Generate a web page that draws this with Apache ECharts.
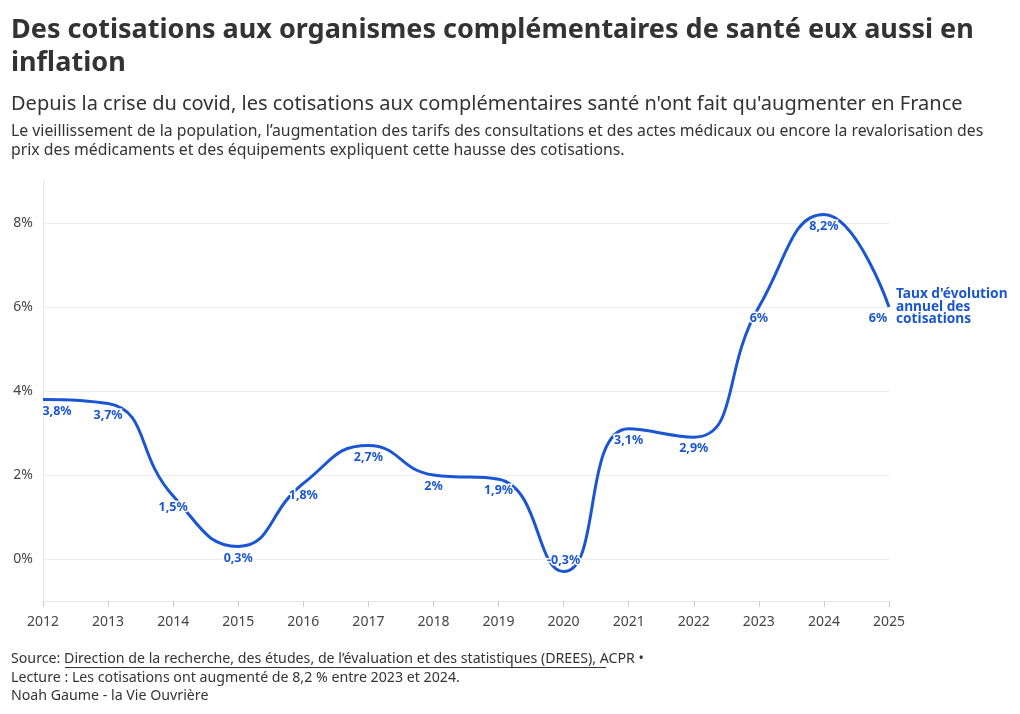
<!DOCTYPE html>
<html>
<head>
<meta charset="utf-8">
<script src="https://cdn.jsdelivr.net/npm/echarts@6/dist/echarts.min.js"></script>
<style>
  html, body { margin: 0; padding: 0; background: #fff; }
  #chart { width: 1020px; height: 714px; }
</style>
</head>
<body>
<div id="chart"></div>
<script>
// Taux d'évolution annuel des cotisations aux complémentaires santé
var years = [2012, 2013, 2014, 2015, 2016, 2017, 2018, 2019, 2020, 2021, 2022, 2023, 2024, 2025];
var rates = [3.8, 3.7, 1.5, 0.3, 1.8, 2.7, 2.0, 1.9, -0.3, 3.1, 2.9, 6, 8.2, 6];
var yTicks = [0, 2, 4, 6, 8];

var FONT = 'Noto Sans';
var BLUE = '#1a56d4';

function pct(v) {
  return String(v).replace('.', ',') + '%';
}

var points = years.map(function (y, i) {
  var item = { value: [y, rates[i]] };
  // valeur négative : étiquette au-dessus du point
  if (rates[i] < 0) item.label = { position: 'top', distance: 5 };
  if (i === 0) item.label = { offset: [14, 0] };
  if (i === years.length - 1) item.label = { offset: [-11, 0] };
  return item;
});

var chart = echarts.init(document.getElementById('chart'));

chart.setOption({
  animation: false,
  textStyle: { fontFamily: FONT },
  title: [
    {
      text: 'Des cotisations aux organismes complémentaires de santé eux aussi en\ninflation',
      left: 11, top: 14, padding: 0,
      textStyle: { fontFamily: FONT, fontSize: 27, fontWeight: 'bold', color: '#333', lineHeight: 33 }
    },
    {
      text: "Depuis la crise du covid, les cotisations aux complémentaires santé n'ont fait qu'augmenter en France",
      left: 11, top: 94, padding: 0,
      textStyle: { fontFamily: FONT, fontSize: 20, fontWeight: 'normal', color: '#333' }
    },
    {
      text: 'Le vieillissement de la population, l’augmentation des tarifs des consultations et des actes médicaux ou encore la revalorisation des\nprix des médicaments et des équipements expliquent cette hausse des cotisations.',
      left: 11, top: 122, padding: 0,
      textStyle: { fontFamily: FONT, fontSize: 15.8, fontWeight: 'normal', color: '#333', lineHeight: 19 }
    },
    {
      text: 'Source: Direction de la recherche, des études, de l’évaluation et des statistiques (DREES), ACPR •\nLecture : Les cotisations ont augmenté de 8,2 % entre 2023 et 2024.\nNoah Gaume - la Vie Ouvrière',
      left: 11, top: 650, padding: 0,
      textStyle: { fontFamily: FONT, fontSize: 14.2, fontWeight: 'normal', color: '#333', lineHeight: 18.5 }
    }
  ],
  graphic: [
    // soulignement du lien de la source
    { type: 'line', shape: { x1: 65, y1: 667.5, x2: 606, y2: 667.5 }, style: { stroke: '#333', lineWidth: 1 } }
  ],
  grid: { left: 43, right: 131, top: 181, bottom: 113, containLabel: false },
  xAxis: {
    type: 'value',
    min: years[0],
    max: years[years.length - 1],
    interval: 1,
    axisLine: { show: true, onZero: false, lineStyle: { color: '#e6e6e6' } },
    axisTick: { show: true, length: 6, lineStyle: { color: '#ccc' } },
    axisLabel: { color: '#444', fontSize: 14, margin: 14, formatter: function (v) { return String(v); } },
    splitLine: { show: false }
  },
  yAxis: {
    type: 'value',
    min: -1,
    max: 9,
    interval: 1,
    axisLine: { show: true, lineStyle: { color: '#e6e6e6' } },
    axisTick: { show: false },
    axisLabel: {
      color: '#444', fontSize: 14, margin: 10,
      formatter: function (v) { return yTicks.indexOf(v) >= 0 ? v + '%' : ''; }
    },
    splitLine: { show: true, lineStyle: { color: ['transparent', '#ececec'], width: 1 } }
  },
  series: [
    {
      type: 'line',
      data: points,
      smooth: 0.5,
      showSymbol: true,
      symbol: 'circle',
      symbolSize: 0.1,
      lineStyle: { color: BLUE, width: 3 },
      itemStyle: { color: BLUE },
      label: {
        show: true,
        position: 'bottom',
        distance: 5,
        color: BLUE,
        fontSize: 12.5,
        fontWeight: 'bold',
        textBorderColor: '#fff',
        textBorderWidth: 3,
        formatter: function (p) { return pct(p.value[1]); }
      },
      endLabel: {
        show: true,
        formatter: "Taux d'évolution\nannuel des\ncotisations",
        color: BLUE,
        fontSize: 13.7,
        fontWeight: 'bold',
        lineHeight: 12.5,
        distance: 7
      }
    }
  ]
});
</script>
</body>
</html>
